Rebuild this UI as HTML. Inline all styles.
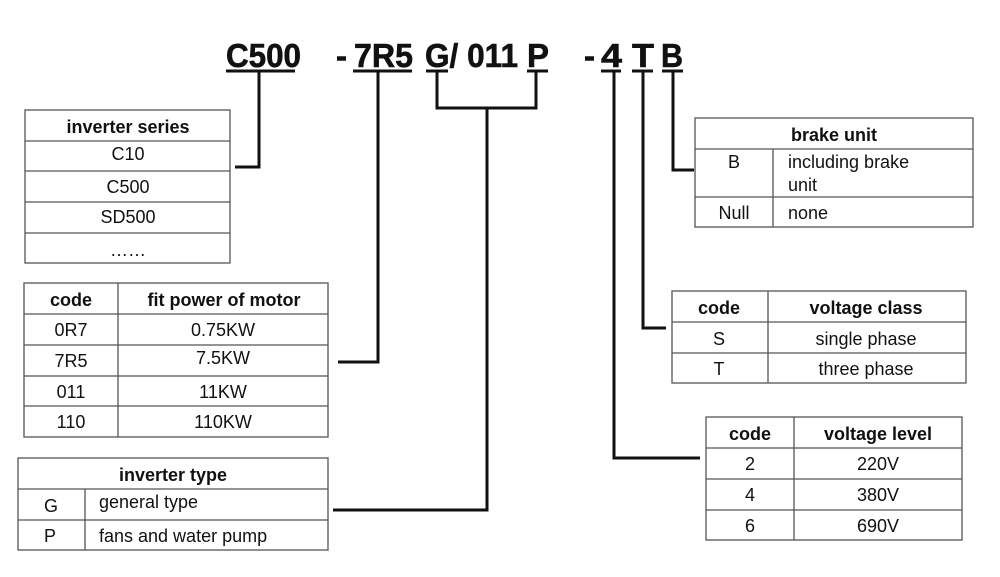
<!DOCTYPE html>
<html><head><meta charset="utf-8"><style>html,body{margin:0;padding:0;background:#fff;}svg{display:block}</style></head><body>
<svg width="1000" height="577" viewBox="0 0 1000 577" xmlns="http://www.w3.org/2000/svg" font-family="Liberation Sans, Arial, sans-serif">
<rect width="1000" height="577" fill="#fff"/>
<g font-weight="bold" font-size="33" fill="#111" stroke="#111" stroke-width="0.6">
<text x="226" y="67" textLength="75" lengthAdjust="spacingAndGlyphs">C500</text>
<text x="336" y="67">-</text>
<text x="354" y="67" textLength="59" lengthAdjust="spacingAndGlyphs">7R5</text>
<text x="425" y="67" textLength="93" lengthAdjust="spacingAndGlyphs">G/ 011</text>
<text x="527" y="67" textLength="22" lengthAdjust="spacingAndGlyphs">P</text>
<text x="584" y="67">-</text>
<text x="601" y="67" textLength="21" lengthAdjust="spacingAndGlyphs">4</text>
<text x="632" y="67" textLength="22" lengthAdjust="spacingAndGlyphs">T</text>
<text x="661" y="67" textLength="22" lengthAdjust="spacingAndGlyphs">B</text>
</g>
<g stroke="#111" stroke-width="3" fill="none">
<line x1="226" y1="71" x2="295" y2="71"/>
<line x1="353" y1="71" x2="412" y2="71"/>
<line x1="426" y1="71" x2="448" y2="71"/>
<line x1="527" y1="71" x2="548" y2="71"/>
<line x1="601" y1="71" x2="621" y2="71"/>
<line x1="632" y1="71" x2="653" y2="71"/>
<line x1="662" y1="71" x2="683" y2="71"/>
<polyline points="259,71 259,167 235,167"/>
<polyline points="378,71 378,362 338,362"/>
<polyline points="437,71 437,108 536,108 536,71"/>
<polyline points="487,108 487,510 333,510"/>
<polyline points="614,71 614,458 700,458"/>
<polyline points="643,71 643,328 666,328"/>
<polyline points="673,71 673,170 694,170"/>
</g>
<g stroke="#555" stroke-width="1.3" fill="none">
<rect x="25" y="110" width="205" height="153"/>
<line x1="25" y1="141" x2="230" y2="141"/><line x1="25" y1="171" x2="230" y2="171"/><line x1="25" y1="202" x2="230" y2="202"/><line x1="25" y1="233" x2="230" y2="233"/>
<rect x="24" y="283" width="304" height="154"/>
<line x1="118" y1="283" x2="118" y2="437"/>
<line x1="24" y1="314" x2="328" y2="314"/><line x1="24" y1="345" x2="328" y2="345"/><line x1="24" y1="376" x2="328" y2="376"/><line x1="24" y1="406" x2="328" y2="406"/>
<rect x="18" y="458" width="310" height="92"/>
<line x1="85" y1="489" x2="85" y2="550"/>
<line x1="18" y1="489" x2="328" y2="489"/><line x1="18" y1="520" x2="328" y2="520"/>
<rect x="695" y="118" width="278" height="109"/>
<line x1="773" y1="149" x2="773" y2="227"/>
<line x1="695" y1="149" x2="973" y2="149"/><line x1="695" y1="197" x2="973" y2="197"/>
<rect x="672" y="291" width="294" height="92"/>
<line x1="768" y1="291" x2="768" y2="383"/>
<line x1="672" y1="322" x2="966" y2="322"/><line x1="672" y1="353" x2="966" y2="353"/>
<rect x="706" y="417" width="256" height="123"/>
<line x1="794" y1="417" x2="794" y2="540"/>
<line x1="706" y1="448" x2="962" y2="448"/><line x1="706" y1="479" x2="962" y2="479"/><line x1="706" y1="510" x2="962" y2="510"/>
</g>
<g font-size="18" fill="#111" text-anchor="middle">
<text x="128" y="133" font-weight="bold">inverter series</text>
<text x="128" y="160">C10</text>
<text x="128" y="193">C500</text>
<text x="128" y="223">SD500</text>
<text x="128" y="256">……</text>
<text x="71" y="306" font-weight="bold">code</text>
<text x="224" y="306" font-weight="bold">fit power of motor</text>
<text x="71" y="336">0R7</text><text x="223" y="336">0.75KW</text>
<text x="71" y="367">7R5</text><text x="223" y="364">7.5KW</text>
<text x="71" y="398">011</text><text x="223" y="398">11KW</text>
<text x="71" y="428">110</text><text x="223" y="428">110KW</text>
<text x="173" y="481" font-weight="bold">inverter type</text>
<text x="51" y="512">G</text>
<text x="50" y="542">P</text>
<text x="834" y="141" font-weight="bold">brake unit</text>
<text x="734" y="168">B</text>
<text x="734" y="219">Null</text>
<text x="719" y="314" font-weight="bold">code</text>
<text x="866" y="314" font-weight="bold">voltage class</text>
<text x="719" y="345">S</text><text x="866" y="345">single phase</text>
<text x="719" y="375">T</text><text x="866" y="375">three phase</text>
<text x="750" y="440" font-weight="bold">code</text>
<text x="878" y="440" font-weight="bold">voltage level</text>
<text x="750" y="470">2</text><text x="878" y="470">220V</text>
<text x="750" y="501">4</text><text x="878" y="501">380V</text>
<text x="750" y="532">6</text><text x="878" y="532">690V</text>
</g>
<g font-size="18" fill="#111">
<text x="99" y="508">general type</text>
<text x="99" y="542">fans and water pump</text>
<text x="788" y="168">including brake</text>
<text x="788" y="191">unit</text>
<text x="788" y="219">none</text>
</g>
</svg>
</body></html>
